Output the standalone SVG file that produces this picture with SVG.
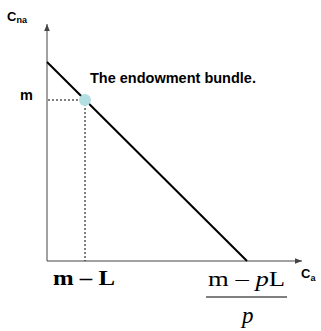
<svg xmlns="http://www.w3.org/2000/svg" width="321" height="331" viewBox="0 0 321 331">
<style>
.ax{stroke:#444;stroke-width:1;fill:none}
.dash{stroke:#000;stroke-width:1;stroke-dasharray:2,2;fill:none}
.sans{font-family:"Liberation Sans",Arial,sans-serif;font-weight:bold;fill:#000}
.serif{font-family:"Liberation Serif","Times New Roman",serif;fill:#000}
</style>
<defs>
<marker id="arr" viewBox="0 0 10 10" refX="10" refY="5" markerWidth="7" markerHeight="7" orient="auto" markerUnits="userSpaceOnUse">
<path d="M0,1 L10,5 L0,9 Z" fill="#444"/>
</marker>
</defs>
<rect width="321" height="331" fill="#fff"/>
<g id="connectors">
<line class="ax" x1="47" y1="261" x2="47" y2="24" marker-end="url(#arr)"/>
<line class="ax" x1="47" y1="261" x2="302" y2="261" marker-end="url(#arr)"/>
<line x1="47" y1="62" x2="247" y2="261" stroke="#000" stroke-width="2"/>
<line class="dash" x1="48" y1="100" x2="85" y2="100"/>
<line class="dash" x1="85" y1="100" x2="85" y2="261"/>
</g>
<g id="endowment">
<circle cx="85" cy="100" r="6" fill="#b3dfe2"/>
<text class="sans" x="90" y="83" font-size="14.5">The endowment bundle.</text>
</g>
<g id="label-cna">
<text class="sans" x="7" y="20.5" font-size="13">C<tspan font-size="9" dy="2">na</tspan></text>
</g>
<g id="label-m">
<text class="sans" x="20" y="100" font-size="14.5">m</text>
</g>
<g id="label-ca">
<text class="sans" x="301" y="278" font-size="13">C<tspan font-size="9" dy="2.5">a</tspan></text>
</g>
<g id="label-mL">
<text class="serif" x="53" y="285" font-size="21" font-weight="bold" textLength="62" lengthAdjust="spacingAndGlyphs">m – L</text>
</g>
<g id="label-frac">
<text class="serif" x="208" y="286" font-size="21" textLength="77" lengthAdjust="spacingAndGlyphs">m – <tspan font-style="italic">p</tspan>L</text>
<line x1="206" y1="297" x2="287" y2="297" stroke="#000" stroke-width="1"/>
<text class="serif" x="242" y="323" font-size="23" font-style="italic">p</text>
</g>
</svg>
